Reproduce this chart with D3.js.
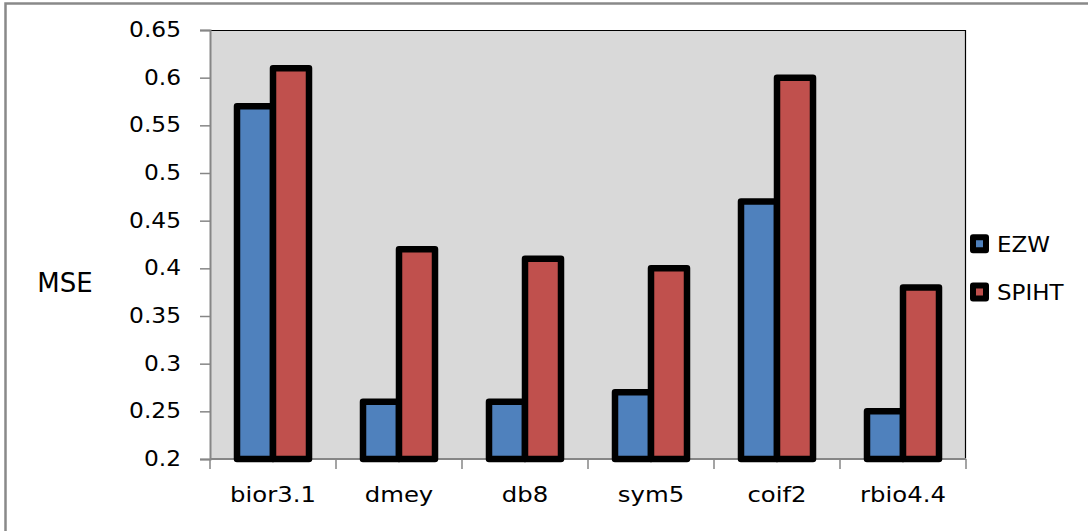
<!DOCTYPE html>
<html>
<head>
<meta charset="utf-8">
<script src="https://cdn.jsdelivr.net/npm/d3@7"></script>
<style>
  html, body { margin: 0; padding: 0; background: #fff; }
  svg { display: block; }
  text { font-family: "DejaVu Sans", Verdana, sans-serif; fill: #000; }
</style>
</head>
<body>
<svg id="chart" width="1088" height="531"></svg>
<script>
// Wavelet filters compared
const categories = ["bior3.1", "dmey", "db8", "sym5", "coif2", "rbio4.4"];
// Mean squared error per coder
const ezwValues   = [0.57, 0.26, 0.26, 0.27, 0.47, 0.25];
const spihtValues = [0.61, 0.42, 0.41, 0.40, 0.60, 0.38];
const seriesNames = ["EZW", "SPIHT"];
const seriesColors = ["#4f81bd", "#c0504d"];
const yTicks = [0.2, 0.25, 0.3, 0.35, 0.4, 0.45, 0.5, 0.55, 0.6, 0.65];
const yLabel = "MSE";

const series = [ezwValues, spihtValues];

const svg = d3.select("#chart");
const plot = { left: 210, top: 30, right: 965, bottom: 459 };

// outer chart frame (only top and left edges are visible)
svg.append("path")
  .attr("d", "M5.5,540 L5.5,3.5 L1100,3.5")
  .attr("fill", "none")
  .attr("stroke", "#898989")
  .attr("stroke-width", 2.5);

const x = d3.scaleBand()
  .domain(categories)
  .range([plot.left, plot.right + 1])
  .paddingInner(0)
  .paddingOuter(0);

const y = d3.scaleLinear()
  .domain([0.2, 0.65])
  .range([plot.bottom, plot.top]);

// plot background
svg.append("rect")
  .attr("x", plot.left)
  .attr("y", plot.top)
  .attr("width", plot.right - plot.left)
  .attr("height", plot.bottom - plot.top)
  .attr("fill", "#d9d9d9");

// top and right plot-area edges
svg.append("path")
  .attr("d", `M${plot.left},${plot.top + 0.5} L${plot.right + 0.5},${plot.top + 0.5} L${plot.right + 0.5},${plot.bottom}`)
  .attr("fill", "none")
  .attr("stroke", "#000")
  .attr("stroke-width", 1.2);

// y axis
const yAxis = d3.axisLeft(y)
  .tickValues(yTicks)
  .tickSize(10)
  .tickPadding(0)
  .tickFormat(d3.format("~g"));

const gy = svg.append("g")
  .attr("transform", `translate(${plot.left},0)`)
  .call(yAxis);
gy.select(".domain").attr("stroke", "#868686").attr("stroke-width", 2);
gy.selectAll(".tick line").attr("stroke", "#868686").attr("stroke-width", 1.5);
gy.selectAll(".tick text")
  .attr("font-size", 21)
  .attr("font-family", "DejaVu Sans, sans-serif")
  .attr("text-anchor", "end")
  .attr("x", 0)
  .attr("dy", null)
  .attr("y", 0)
  .attr("transform", "translate(-29,6.5) scale(1.11,1)");

// x axis: ticks sit on category boundaries
const xAxis = d3.axisBottom(x).tickSize(0).tickPadding(0);
const gx = svg.append("g")
  .attr("transform", `translate(0,${plot.bottom})`)
  .call(xAxis);
gx.select(".domain").remove();
gx.selectAll(".tick text")
  .attr("font-size", 21)
  .attr("font-family", "DejaVu Sans, sans-serif")
  .attr("dy", null)
  .attr("y", 0)
  .attr("transform", "translate(0,42.5) scale(1.16,1)");

const boundaries = categories.map(c => x(c)).concat([x(categories[categories.length - 1]) + x.bandwidth()]);
gx.selectAll("line.boundary")
  .data(boundaries)
  .join("line")
  .attr("class", "boundary")
  .attr("x1", d => d).attr("x2", d => d)
  .attr("y1", 0).attr("y2", 10)
  .attr("stroke", "#868686")
  .attr("stroke-width", 1.5);

gx.append("line")
  .attr("x1", plot.left).attr("x2", plot.right + 1)
  .attr("y1", 0).attr("y2", 0)
  .attr("stroke", "#868686")
  .attr("stroke-width", 2);

// bars: two adjacent bars per category, gap width 150%
const band = x.bandwidth();
const barW = band / 3.5;
const xs = d3.scaleBand()
  .domain(d3.range(series.length))
  .range([0, barW * 2]);

const groups = svg.append("g").selectAll("g")
  .data(categories)
  .join("g")
  .attr("transform", c => `translate(${x(c) + (band - barW * 2) / 2},0)`);

groups.selectAll("rect")
  .data((c, i) => series.map((s, k) => ({ k, v: s[i] })))
  .join("rect")
  .attr("x", d => xs(d.k))
  .attr("width", xs.bandwidth())
  .attr("y", d => y(d.v))
  .attr("height", d => y(0.2) - y(d.v))
  .attr("fill", d => seriesColors[d.k])
  .attr("stroke", "#000")
  .attr("stroke-width", 6.5)
  .attr("stroke-linejoin", "round");

// y axis title
svg.append("text")
  .attr("x", 65)
  .attr("y", 292)
  .attr("text-anchor", "middle")
  .attr("font-size", 26)
  .text(yLabel);

// legend
const legend = svg.append("g").selectAll("g")
  .data(seriesNames)
  .join("g")
  .attr("transform", (d, i) => `translate(979.5,${243.8 + i * 48.2})`);

legend.append("rect")
  .attr("x", -6.5).attr("y", -6.5)
  .attr("width", 13).attr("height", 13)
  .attr("fill", (d, i) => seriesColors[i])
  .attr("stroke", "#000")
  .attr("stroke-width", 6)
  .attr("stroke-linejoin", "round");

legend.append("text")
  .attr("x", 0)
  .attr("y", 0)
  .attr("font-size", 21.5)
  .attr("transform", "translate(17.5,8) scale(1.07,1)")
  .text(d => d);
</script>
</body>
</html>
